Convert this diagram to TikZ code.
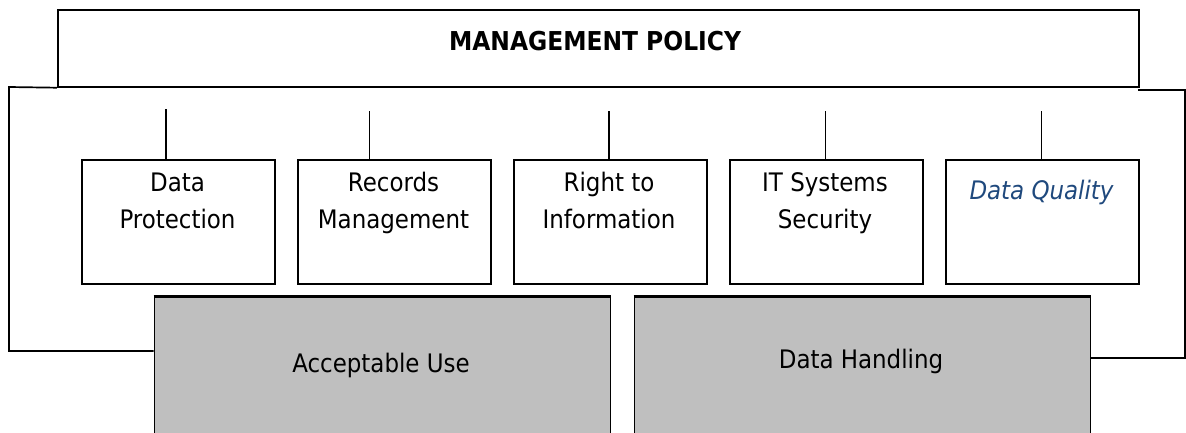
\documentclass[tikz,border=0pt]{standalone}
\usepackage{fontspec}
\setmainfont{DejaVu Sans Condensed}
\definecolor{dqblue}{RGB}{31,73,125}
\definecolor{grayfill}{RGB}{191,191,191}
\begin{document}
\begin{tikzpicture}[x=1pt,y=-1pt,
  frame/.style={line width=1.7pt,draw=black},
  smallbox/.style={frame,minimum width=193pt,minimum height=124pt,inner sep=0pt,anchor=north west},
  graybox/.style={frame,fill=grayfill,minimum width=456pt,minimum height=150pt,inner sep=0pt,anchor=north west},
  lbl/.style={font=\fontsize{25.5}{25.5}\selectfont,anchor=base,inner sep=0pt},
  conn/.style={line width=1.7pt}]
\useasboundingbox (0,0) rectangle (1186,432);
\clip (0,0) rectangle (1186,432);
\fill[white] (0,0) rectangle (1186,432);
% top box
\node[frame,minimum width=1081pt,minimum height=77pt,inner sep=0pt,anchor=north west] (top) at (57,9) {};
\node[lbl,font=\fontsize{26}{26}\selectfont\bfseries] (toplbl) at (595,50) {MANAGEMENT POLICY};
% gray boxes
\node[graybox] (au) at (153.5,296) {};
\node[graybox] (dh) at (633.5,296) {};
\draw[line width=2.6pt] (au.north west) -- (au.north east);
\draw[line width=2.6pt] (dh.north west) -- (dh.north east);
\node[lbl] (aulbl) at (381,372) {Acceptable Use};
\node[lbl] (dhlbl) at (861,368) {Data Handling};
% brackets
\coordinate (lb1) at (9,87);
\coordinate (lb2) at (9,351);
\draw[conn] (top.south west) -- (lb1) -- (lb2) -- (au.west |- lb2);
\coordinate (rb0) at (1138,90);
\coordinate (rb1) at (1185,90);
\coordinate (rb2) at (1185,358);
\draw[conn] (rb0) -- (rb1) -- (rb2) -- (dh.east |- rb2);
% small boxes
\node[smallbox] (b1) at (81,159) {};
\node[smallbox] (b2) at (297,159) {};
\node[smallbox] (b3) at (513,159) {};
\node[smallbox] (b4) at (729,159) {};
\node[smallbox] (b5) at (945,159) {};
\node[lbl] (t1a) at (177.5,191.5) {Data};
\node[lbl] (t1b) at (177.5,228) {Protection};
\node[lbl] (t2a) at (393.5,191.5) {Records};
\node[lbl] (t2b) at (393.5,228) {Management};
\node[lbl] (t3a) at (609,191.5) {Right to};
\node[lbl] (t3b) at (609,228) {Information};
\node[lbl] (t4a) at (825,191.5) {IT Systems};
\node[lbl] (t4b) at (825,228) {Security};
\node[lbl,text=dqblue,font=\fontsize{25.5}{25.5}\selectfont\itshape] (t5) at (1041.5,199) {Data Quality};
% connectors
\coordinate (c1) at (166,109);
\coordinate (c2) at (369.5,111);
\coordinate (c3) at (609,111);
\coordinate (c4) at (825.5,111);
\coordinate (c5) at (1041.5,111);
\draw[conn] (c1) -- (c1 |- b1.north);
\draw[conn] (c2) -- (c2 |- b2.north);
\draw[conn] (c3) -- (c3 |- b3.north);
\draw[conn] (c4) -- (c4 |- b4.north);
\draw[conn] (c5) -- (c5 |- b5.north);
\end{tikzpicture}
\end{document}
